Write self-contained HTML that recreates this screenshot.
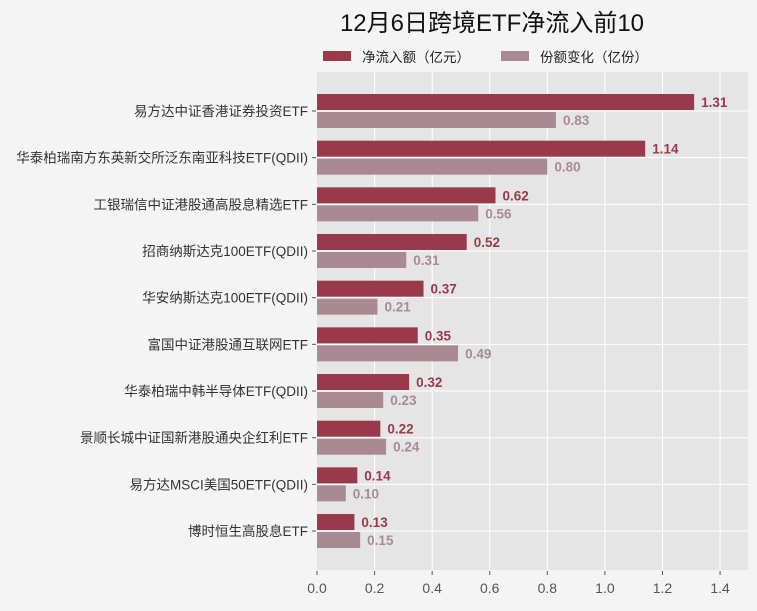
<!DOCTYPE html>
<html><head><meta charset="utf-8"><style>
body{margin:0;background:#f4f4f4;}
svg text{font-family:"Liberation Sans","Noto Sans CJK SC",sans-serif;}
</style></head><body>
<svg width="757" height="606" xmlns="http://www.w3.org/2000/svg">
<rect width="757" height="606" fill="#f4f4f4"/>
<text x="492" y="31" font-size="24" text-anchor="middle" fill="#111">12月6日跨境ETF净流入前10</text>
<rect x="323" y="51" width="28" height="10" fill="#983a4a"/>
<text x="362" y="62" font-size="13.5" fill="#222">净流入额（亿元）</text>
<rect x="501" y="51" width="28" height="10" fill="#a98a93"/>
<text x="540" y="62" font-size="13.5" fill="#222">份额变化（亿份）</text>
<rect x="317" y="72" width="431" height="498" fill="#e5e5e5"/>
<g stroke="#fff" stroke-width="1">
<line x1="374.6" y1="72" x2="374.6" y2="570"/><line x1="432.2" y1="72" x2="432.2" y2="570"/>
<line x1="489.7" y1="72" x2="489.7" y2="570"/><line x1="547.3" y1="72" x2="547.3" y2="570"/>
<line x1="604.9" y1="72" x2="604.9" y2="570"/><line x1="662.5" y1="72" x2="662.5" y2="570"/>
<line x1="720.1" y1="72" x2="720.1" y2="570"/>
</g>
<g id="g"></g>
<g font-size="14" fill="#555" text-anchor="middle" id="xt"></g>
</svg>
<script>
var names=["易方达中证香港证券投资ETF","华泰柏瑞南方东英新交所泛东南亚科技ETF(QDII)","工银瑞信中证港股通高股息精选ETF","招商纳斯达克100ETF(QDII)","华安纳斯达克100ETF(QDII)","富国中证港股通互联网ETF","华泰柏瑞中韩半导体ETF(QDII)","景顺长城中证国新港股通央企红利ETF","易方达MSCI美国50ETF(QDII)","博时恒生高股息ETF"];
var a=[1.31,1.14,0.62,0.52,0.37,0.35,0.32,0.22,0.14,0.13];
var b=[0.83,0.80,0.56,0.31,0.21,0.49,0.23,0.24,0.10,0.15];
var s="",u=287.9,x0=317;
for(var i=0;i<10;i++){var c=111+i*46.67;
s+='<line x1="317" y1="'+c+'" x2="748" y2="'+c+'" stroke="#fff"/>';
s+='<line x1="312" y1="'+c+'" x2="316" y2="'+c+'" stroke="#555"/>';
s+='<text x="308" y="'+(c+5)+'" font-size="13.5" fill="#333" text-anchor="end">'+names[i]+'</text>';
s+='<rect x="317" y="'+(c-17)+'" width="'+(a[i]*u)+'" height="16" fill="#983a4a"/>';
s+='<rect x="317" y="'+(c+1)+'" width="'+(b[i]*u)+'" height="16" fill="#a98a93"/>';
s+='<text x="'+(x0+a[i]*u+7)+'" y="'+(c-4)+'" font-size="13.5" font-weight="bold" fill="#983a4a">'+a[i].toFixed(2)+'</text>';
s+='<text x="'+(x0+b[i]*u+7)+'" y="'+(c+14)+'" font-size="13.5" font-weight="bold" fill="#a98a93">'+b[i].toFixed(2)+'</text>';}
document.getElementById('g').innerHTML=s;
var t="";for(var k=0;k<8;k++){var x=x0+k*0.2*u;t+='<line x1="'+x+'" y1="571" x2="'+x+'" y2="575" stroke="#555"/><text x="'+x+'" y="593">'+(k*0.2).toFixed(1)+'</text>';}
document.getElementById('xt').innerHTML=t;
</script>
</body></html>
